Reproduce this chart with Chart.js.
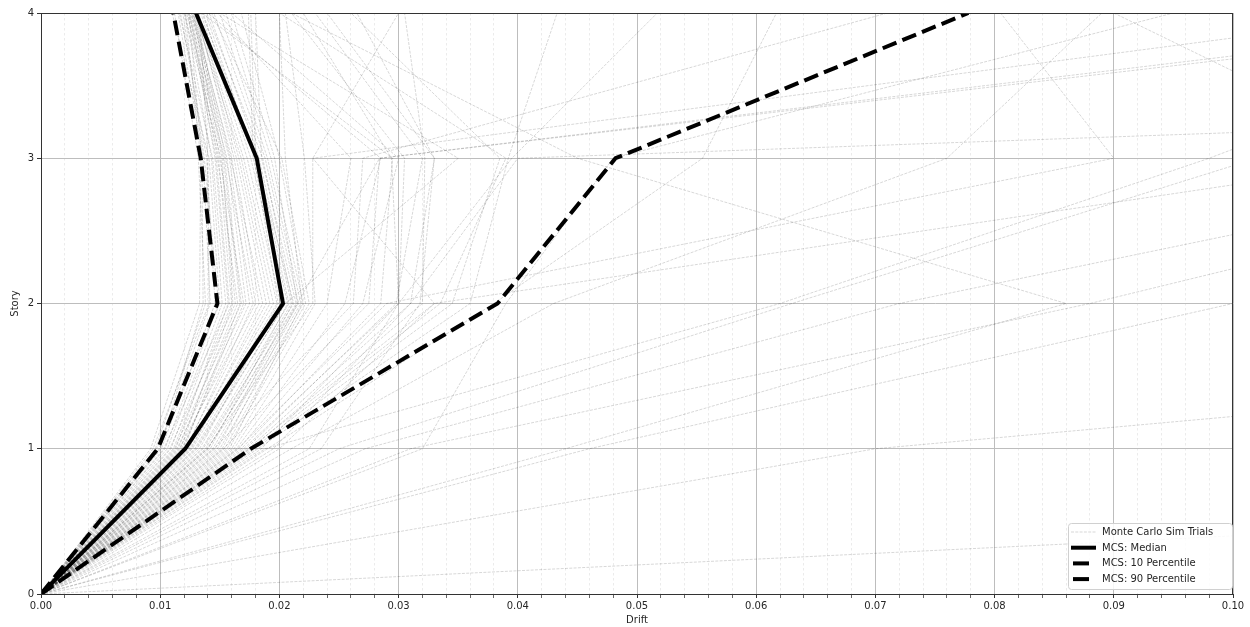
<!DOCTYPE html>
<html>
<head>
<meta charset="utf-8">
<script src="https://cdn.jsdelivr.net/npm/chart.js@4"></script>
<style>
  html, body { margin: 0; padding: 0; background: #fff; }
  #wrap { width: 1250px; height: 627px; }
</style>
</head>
<body>
<div id="wrap"><canvas id="driftChart" width="1250" height="627"></canvas></div>
<script>
// Story levels (y) and drift values (x) at each level
const stories = [0, 1, 2, 3, 4];
const medianDrift = [0, 0.0121, 0.0203, 0.0181, 0.0130];
const p10Drift = [0, 0.0098, 0.0148, 0.0134, 0.0111];
const p90Drift = [0, 0.0176, 0.0383, 0.0482, 0.0778];

// Monte Carlo trials: drift at stories 1..4 (story 0 is always 0)
const trialDrifts = [
  [0.0092, 0.0133, 0.0134, 0.0121],
  [0.0096, 0.0138, 0.0132, 0.0112],
  [0.0099, 0.0142, 0.0136, 0.0115],
  [0.0101, 0.0146, 0.0139, 0.0117],
  [0.0097, 0.0150, 0.0141, 0.0110],
  [0.0104, 0.0149, 0.0137, 0.0119],
  [0.0106, 0.0152, 0.0143, 0.0121],
  [0.0109, 0.0155, 0.0144, 0.0116],
  [0.0103, 0.0158, 0.0147, 0.0123],
  [0.0111, 0.0160, 0.0149, 0.0124],
  [0.0113, 0.0157, 0.0146, 0.0125],
  [0.0108, 0.0163, 0.0151, 0.0120],
  [0.0115, 0.0165, 0.0148, 0.0126],
  [0.0117, 0.0161, 0.0152, 0.0127],
  [0.0112, 0.0168, 0.0154, 0.0122],
  [0.0119, 0.0170, 0.0150, 0.0128],
  [0.0114, 0.0172, 0.0156, 0.0124],
  [0.0120, 0.0167, 0.0153, 0.0129],
  [0.0118, 0.0175, 0.0158, 0.0126],
  [0.0122, 0.0178, 0.0155, 0.0130],
  [0.0116, 0.0180, 0.0160, 0.0127],
  [0.0121, 0.0183, 0.0162, 0.0131],
  [0.0124, 0.0186, 0.0159, 0.0128],
  [0.0123, 0.0189, 0.0164, 0.0130],
  [0.0126, 0.0192, 0.0166, 0.0132],
  [0.0125, 0.0195, 0.0168, 0.0129],
  [0.0094, 0.0141, 0.0140, 0.0133],
  [0.0100, 0.0136, 0.0135, 0.0124],
  [0.0127, 0.0198, 0.0170, 0.0131],
  [0.0129, 0.0201, 0.0173, 0.0134],
  [0.0131, 0.0205, 0.0176, 0.0136],
  [0.0133, 0.0199, 0.0179, 0.0138],
  [0.0135, 0.0208, 0.0181, 0.0135],
  [0.0138, 0.0210, 0.0183, 0.0141],
  [0.0136, 0.0212, 0.0180, 0.0176],
  [0.0140, 0.0214, 0.0185, 0.0180],
  [0.0142, 0.0207, 0.0178, 0.0174],
  [0.0144, 0.0216, 0.0188, 0.0145],
  [0.0146, 0.0218, 0.0190, 0.0150],
  [0.0148, 0.0211, 0.0186, 0.0139],
  [0.0150, 0.0220, 0.0193, 0.0155],
  [0.0152, 0.0215, 0.0196, 0.0160],
  [0.0154, 0.0222, 0.0200, 0.0168],
  [0.0156, 0.0225, 0.0202, 0.0143],
  [0.0158, 0.0219, 0.0205, 0.0200],
  [0.0160, 0.0230, 0.0221, 0.0205],
  [0.0162, 0.0240, 0.0260, 0.0148],
  [0.0164, 0.0255, 0.0285, 0.0140],
  [0.0166, 0.0270, 0.0300, 0.0160],
  [0.0168, 0.0285, 0.0295, 0.0135],
  [0.0170, 0.0300, 0.0305, 0.0210],
  [0.0172, 0.0298, 0.0320, 0.0230],
  [0.0174, 0.0310, 0.0330, 0.0265],
  [0.0139, 0.0228, 0.0228, 0.0300],
  [0.0145, 0.0262, 0.0270, 0.0710],
  [0.0153, 0.0275, 0.0284, 0.1300],
  [0.0176, 0.0320, 0.0322, 0.0305],
  [0.0178, 0.0335, 0.0390, 0.0200],
  [0.0180, 0.0345, 0.0385, 0.0260],
  [0.0182, 0.0360, 0.0392, 0.0433],
  [0.0185, 0.0300, 0.0395, 0.0517],
  [0.0188, 0.0620, 0.0980, 0.1300],
  [0.0190, 0.0380, 0.0555, 0.0617],
  [0.0195, 0.0310, 0.0400, 0.3800],
  [0.0200, 0.0330, 0.0228, 0.1160],
  [0.0210, 0.0430, 0.0760, 0.0890],
  [0.0225, 0.0300, 0.0294, 0.0220],
  [0.0235, 0.0318, 0.0330, 0.0240],
  [0.0250, 0.0630, 0.1020, 0.1500],
  [0.0272, 0.0720, 0.1310, 0.1600],
  [0.0310, 0.0880, 0.1380, 0.2000],
  [0.0320, 0.0390, 0.0480, 0.0950],
  [0.0440, 0.0860, 0.0450, 0.0210],
  [0.0460, 0.1000, 0.1200, 0.1400],
  [0.0700, 0.2050, 0.2500, 0.2800],
  [0.2500, 0.4000, 0.4500, 0.5000],
  [0.0140, 0.0215, 0.0284, 0.1330],
  [0.0130, 0.0205, 0.0350, 0.0150],
  [0.0165, 0.0290, 0.0900, 0.0805],
  [0.0175, 0.0330, 0.1150, 0.0900]
];

// Axis tick labels
const driftTicks = [0.00, 0.01, 0.02, 0.03, 0.04, 0.05, 0.06, 0.07, 0.08, 0.09, 0.10];
const storyTicks = [0, 1, 2, 3, 4];

const FONT = { family: 'DejaVu Sans', size: 10 };
const TEXT = '#262626';

function toPoints(drifts) {
  return drifts.map((d, i) => ({ x: d, y: stories[i] }));
}

const datasets = [
  {
    label: 'MCS: Median',
    data: toPoints(medianDrift),
    borderColor: '#000',
    borderWidth: 4,
    borderDash: []
  },
  {
    label: 'MCS: 10 Percentile',
    data: toPoints(p10Drift),
    borderColor: '#000',
    borderWidth: 4,
    borderDash: [14.8, 6.4]
  },
  {
    label: 'MCS: 90 Percentile',
    data: toPoints(p90Drift),
    borderColor: '#000',
    borderWidth: 4,
    borderDash: [14.8, 6.4]
  }
];

trialDrifts.forEach((row, i) => {
  datasets.push({
    label: i === 0 ? 'Monte Carlo Sim Trials' : '',
    data: toPoints([0].concat(row)),
    borderColor: 'rgba(0, 0, 0, 0.2)',
    borderWidth: 0.8,
    borderDash: [3, 1.3]
  });
});

// matplotlib-like frame around the plot area
const framePlugin = {
  id: 'frame',
  afterDatasetsDraw(chart) {
    const { ctx, chartArea: a } = chart;
    ctx.save();
    ctx.strokeStyle = '#333';
    ctx.lineWidth = 1;
    ctx.strokeRect(Math.round(a.left) + 0.5, Math.round(a.top) + 0.5,
      Math.round(a.right - a.left) - 1, Math.round(a.bottom - a.top));
    ctx.restore();
  }
};

// legend box in the lower right corner of the plot
const legendPlugin = {
  id: 'insideLegend',
  afterDraw(chart) {
    const { ctx, chartArea: a } = chart;
    const order = [3, 0, 1, 2];
    const w = 164, h = 66;
    const x0 = a.right - w - 1, y0 = a.bottom - h - 5;
    ctx.save();
    ctx.beginPath();
    ctx.roundRect(x0 + 0.5, y0 + 0.5, w, h, 3);
    ctx.fillStyle = 'rgba(255,255,255,0.85)';
    ctx.fill();
    ctx.strokeStyle = '#d0d0d0';
    ctx.lineWidth = 1;
    ctx.stroke();

    ctx.font = FONT.size + 'px ' + FONT.family;
    ctx.textBaseline = 'middle';
    ctx.fillStyle = TEXT;
    order.forEach((di, row) => {
      const ds = chart.data.datasets[di];
      const y = y0 + 9 + row * 15.7;
      ctx.save();
      ctx.strokeStyle = di === 3 ? 'rgba(0,0,0,0.2)' : ds.borderColor;
      ctx.lineWidth = ds.borderWidth;
      if (di === 1 || di === 2) {
        ctx.beginPath();
        ctx.moveTo(x0 + 5, y);
        ctx.lineTo(x0 + 21, y);
        ctx.stroke();
      } else {
        ctx.setLineDash(ds.borderDash);
        ctx.beginPath();
        ctx.moveTo(x0 + 3, y);
        ctx.lineTo(x0 + 28, y);
        ctx.stroke();
      }
      ctx.restore();
      ctx.fillText(ds.label, x0 + 34, y + 0.5);
    });
    ctx.restore();
  }
};

new Chart(document.getElementById('driftChart'), {
  type: 'line',
  data: { datasets },
  plugins: [framePlugin, legendPlugin],
  options: {
    responsive: false,
    animation: false,
    events: [],
    layout: { padding: { left: 9, right: 17, top: 13, bottom: 0 } },
    elements: {
      point: { radius: 0 },
      line: { tension: 0, fill: false, borderCapStyle: 'butt', borderJoinStyle: 'miter' }
    },
    plugins: {
      legend: { display: false },
      tooltip: { enabled: false }
    },
    scales: {
      x: {
        type: 'linear',
        min: 0,
        max: 0.1,
        afterBuildTicks(scale) {
          const ticks = [];
          driftTicks.forEach((v, i) => {
            ticks.push({ value: v, major: true });
            if (i < driftTicks.length - 1) {
              const step = (driftTicks[i + 1] - v) / 5;
              for (let k = 1; k < 5; k++) ticks.push({ value: v + k * step, major: false });
            }
          });
          scale.ticks = ticks;
        },
        afterFit(scale) { scale.height = 33; },
        ticks: {
          autoSkip: false,
          maxRotation: 0,
          minRotation: 0,
          padding: 2,
          color: TEXT,
          font: FONT,
          callback: (value, index, ticks) => ticks[index].major ? value.toFixed(2) : ''
        },
        grid: {
          color: (c) => c.tick && c.tick.major ? '#bdbdbd' : '#ebebeb',
          lineWidth: 1,
          tickColor: (c) => c.tick && c.tick.major ? '#333' : '#666',
          tickLength: 4
        },
        border: {
          color: '#333',
          dash: (c) => c.tick && !c.tick.major ? [2.5, 2.5] : []
        },
        title: {
          display: true,
          text: 'Drift',
          color: TEXT,
          font: FONT,
          padding: { top: 0, bottom: 1 }
        }
      },
      y: {
        type: 'linear',
        min: 0,
        max: 4,
        afterBuildTicks(scale) {
          scale.ticks = storyTicks.map((v) => ({ value: v }));
        },
        afterFit(scale) { scale.width = 32; },
        ticks: {
          padding: 3,
          color: TEXT,
          font: FONT,
          callback: (value) => String(value)
        },
        grid: {
          color: '#bdbdbd',
          lineWidth: 1,
          tickColor: '#333',
          tickLength: 4
        },
        border: { color: '#333' },
        title: {
          display: true,
          text: 'Story',
          color: TEXT,
          font: FONT,
          padding: { top: 0, bottom: 0 }
        }
      }
    }
  }
});
</script>
</body>
</html>
